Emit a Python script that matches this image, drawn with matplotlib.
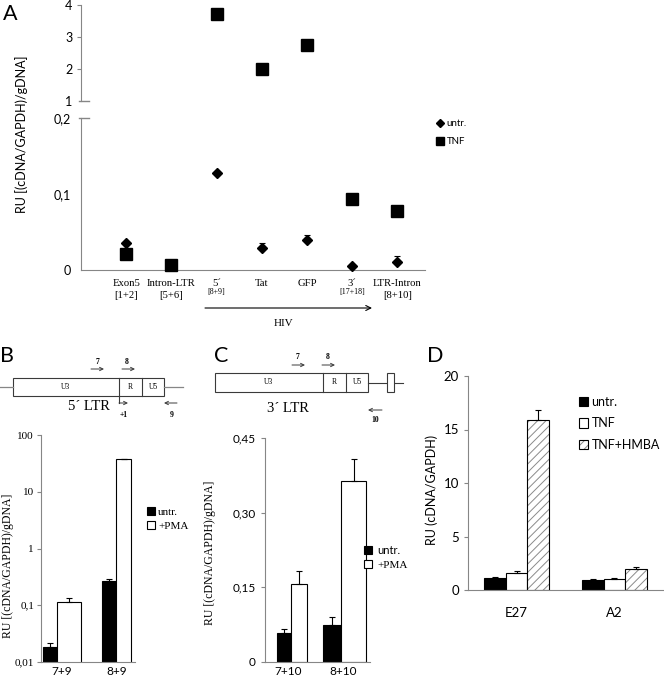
import numpy as np
import matplotlib
matplotlib.use('Agg')
import matplotlib.pyplot as plt
from matplotlib.patches import Rectangle
from matplotlib.ticker import NullLocator
from matplotlib.transforms import blended_transform_factory

W, H = 664, 681
SANS = ['Lato', 'DejaVu Sans']
SERIF = ['Liberation Serif', 'DejaVu Serif']
GREY = '#868686'
DARK = '#3a3a3a'

# ---- panel A: scatter, broken y axis
cats_A = ['Exon5', 'Intron-LTR', '5´', 'Tat', 'GFP', '3´', 'LTR-Intron']
primers_A = ['[1+2]', '[5+6]', '[8+9]', '', '', '[17+18]', '[8+10]']
untr_A = [0.036, 0.006, 0.128, 0.0285, 0.039, 0.0057, 0.0105]
untr_A_err = [0, 0, 0, 0.0075, 0.007, 0, 0.0075]
tnf_A = [0.021, 0.0066, 3.71, 2.0, 2.75, 0.094, 0.078]
tnf_A_err = [0, 0.003, 0, 0, 0.12, 0, 0]
yticks_A_top = [1, 2, 3, 4]
yticklabels_A_top = ['1', '2', '3', '4']
yticks_A_bot = [0, 0.1, 0.2]
yticklabels_A_bot = ['0', '0,1', '0,2']

# ---- panel B: 5' LTR, log scale
cats_B = ['7+9', '8+9']
untr_B = [0.0185, 0.265]
untr_B_err = [0.003, 0.025]
pma_B = [0.115, 37.7]
pma_B_err = [0.02, 0.8]
yticks_B = [0.01, 0.1, 1, 10, 100]
yticklabels_B = ['0,01', '0,1', '1', '10', '100']

# ---- panel C: 3' LTR
cats_C = ['7+10', '8+10']
untr_C = [0.059, 0.075]
untr_C_err = [0.008, 0.015]
pma_C = [0.157, 0.363]
pma_C_err = [0.026, 0.045]
yticks_C = [0, 0.15, 0.30, 0.45]
yticklabels_C = ['0', '0,15', '0,30', '0,45']

# ---- panel D
cats_D = ['E27', 'A2']
untr_D = [1.09, 0.93]
untr_D_err = [0.15, 0.1]
tnf_D = [1.56, 1.0]
tnf_D_err = [0.24, 0.09]
hmba_D = [15.86, 1.96]
hmba_D_err = [1.0, 0.22]
yticks_D = [0, 5, 10, 15, 20]


def box(x0, y0, x1, y1):
    # pixel box (top-left origin) -> figure fraction rect
    return [x0 / W, 1 - y1 / H, (x1 - x0) / W, (y1 - y0) / H]


def style(ax):
    for s in ('top', 'right'):
        ax.spines[s].set_visible(False)
    ax.spines['left'].set_color(GREY)
    ax.spines['bottom'].set_color(GREY)
    ax.tick_params(axis='y', color=GREY, length=3, direction='out')
    ax.tick_params(axis='x', length=0)


def up_err(ax, x, y, err):
    ax.errorbar(x, y, yerr=[np.zeros(len(err)), err], fmt='none', ecolor='k',
                elinewidth=0.8, capsize=2, capthick=0.8, zorder=3)


plt.rcParams['font.family'] = SANS
plt.rcParams['hatch.linewidth'] = 0.7

fig = plt.figure(figsize=(W / 100, H / 100), dpi=100)
ov = fig.add_axes([0, 0, 1, 1])
ov.set_xlim(0, W)
ov.set_ylim(H, 0)
ov.axis('off')

# ================= A =================
axT = fig.add_axes(box(81, 5, 425, 101))
axL = fig.add_axes(box(81, 118, 425, 270))
xA = np.arange(1, len(cats_A) + 1)
for ax in (axT, axL):
    style(ax)
    ax.set_xlim(0, 7.61)
    ax.set_xticks([])
axT.spines['bottom'].set_visible(False)
axT.set_ylim(1, 4)
axT.set_yticks(yticks_A_top, yticklabels_A_top, fontsize=9)
axT.yaxis.get_major_ticks()[0].tick1line.set_visible(False)
axT.tick_params(axis='y', pad=3)
axL.set_ylim(0, 0.2)
axL.set_yticks(yticks_A_bot, yticklabels_A_bot, fontsize=9)
axL.tick_params(axis='y', length=0, pad=7)
for ax, yb in ((axT, 1), (axL, 0.2)):
    ax.plot([-0.005, 0.022], [yb, yb], transform=ax.get_yaxis_transform(),
            color=GREY, lw=1, clip_on=False)

tnf = np.array(tnf_A)
tnf_err = np.array(tnf_A_err)
hi = tnf > 1
h_untr, = axL.plot(xA, untr_A, 'D', ms=5.5, color='k', clip_on=False, zorder=4)
up_err(axL, xA, untr_A, untr_A_err)
h_tnf, = axL.plot(xA[~hi], tnf[~hi], 's', ms=8.2, color='k', clip_on=False, zorder=5)
up_err(axL, xA[~hi], tnf[~hi], tnf_err[~hi])
axT.plot(xA[hi], tnf[hi], 's', ms=8.2, color='k', clip_on=False, zorder=5)
up_err(axT, xA[hi], tnf[hi], tnf_err[hi])

fig.legend([h_untr, h_tnf], ['untr.', 'TNF'], loc='upper left',
           bbox_to_anchor=(436 / W, 1 - 119 / H), frameon=False,
           prop={'family': SANS, 'size': 7}, handlelength=0.9, handletextpad=0.2,
           labelspacing=0.95, markerscale=0.7, borderpad=0, borderaxespad=0)

trA = blended_transform_factory(axL.transData, ov.transData)
for i, (c, p) in enumerate(zip(cats_A, primers_A)):
    ov.text(xA[i], 284, c, transform=trA, ha='center', va='center',
            family=SERIF, fontsize=7.7)
    if p:
        small = c.endswith('´')
        ov.text(xA[i], 292 if small else 295, p, transform=trA, ha='center',
                va='center', family=SERIF, fontsize=5.8 if small else 7.7)
ov.annotate('', xy=(372, 308), xytext=(205, 308),
            arrowprops=dict(arrowstyle='->', lw=0.8, color='k',
                            shrinkA=0, shrinkB=0, mutation_scale=9))
ov.text(284, 324, 'HIV', ha='center', va='center', family=SERIF, fontsize=8)
fig.text(22 / W, 1 - 134 / H, 'RU [(cDNA/GAPDH)/gDNA]', rotation=90,
         ha='center', va='center', fontsize=9)

# ================= B =================
axB = fig.add_axes(box(41, 435, 135, 662))
style(axB)
axB.set_yscale('log')
axB.set_ylim(0.01, 100)
axB.set_xlim(-0.382, 1.327)
axB.yaxis.set_minor_locator(NullLocator())
axB.set_yticks(yticks_B, yticklabels_B, family=SERIF, fontsize=8)
axB.tick_params(axis='y', pad=2)
xB = np.arange(len(cats_B))
axB.set_xticks(xB, cats_B, fontsize=8.5)
axB.tick_params(axis='x', pad=3)
lB_untr, wB_untr = np.array([-0.345, -0.273]), np.array([0.255, 0.255])
lB_pma, wB_pma = np.array([-0.091, -0.018]), np.array([0.436, 0.273])
bB1 = axB.bar(xB + lB_untr, untr_B, width=wB_untr, align='edge', color='k',
              edgecolor='k', lw=0.8)
bB2 = axB.bar(xB + lB_pma, pma_B, width=wB_pma, align='edge', color='white',
              edgecolor='k', lw=0.8)
up_err(axB, xB + lB_untr + wB_untr / 2, untr_B, untr_B_err)
up_err(axB, xB + lB_pma + wB_pma / 2, pma_B, pma_B_err)
fig.legend([bB1, bB2], ['untr.', '+PMA'], loc='upper left',
           bbox_to_anchor=(147 / W, 1 - 507 / H), frameon=False,
           prop={'family': SERIF, 'size': 8}, handlelength=0.75, handleheight=0.75,
           handletextpad=0.25, labelspacing=0.35, borderpad=0, borderaxespad=0)
fig.text(8 / W, 1 - 566 / H, 'RU [(cDNA/GAPDH)/gDNA]', rotation=90,
         ha='center', va='center', family=SERIF, fontsize=8.5)

# ================= C =================
axC = fig.add_axes(box(265, 438, 370, 662))
style(axC)
axC.set_ylim(0, 0.45)
axC.set_xlim(-0.418, 1.491)
axC.set_yticks(yticks_C, yticklabels_C, fontsize=8.5)
xC = np.arange(len(cats_C))
axC.set_xticks(xC, cats_C, fontsize=8.5)
axC.tick_params(axis='x', pad=3)
lC_untr, wC_untr = np.array([-0.2, -0.364]), np.array([0.255, 0.327])
lC_pma, wC_pma = np.array([0.055, -0.036]), np.array([0.29, 0.455])
bC1 = axC.bar(xC + lC_untr, untr_C, width=wC_untr, align='edge', color='k',
              edgecolor='k', lw=0.8)
bC2 = axC.bar(xC + lC_pma, pma_C, width=wC_pma, align='edge', color='white',
              edgecolor='k', lw=0.8)
up_err(axC, xC + lC_untr + wC_untr / 2, untr_C, untr_C_err)
up_err(axC, xC + lC_pma + wC_pma / 2, pma_C, pma_C_err)
legC = fig.legend([bC1, bC2], ['untr.', '+PMA'], loc='upper left',
                  bbox_to_anchor=(364 / W, 1 - 545 / H), frameon=False,
                  prop={'family': SERIF, 'size': 8}, handlelength=0.7,
                  handleheight=0.7, handletextpad=0.5, labelspacing=0.35,
                  borderpad=0, borderaxespad=0)
legC.get_texts()[0].set_fontfamily(SANS)
fig.text(210 / W, 1 - 553 / H, 'RU [(cDNA/GAPDH)/gDNA]', rotation=90,
         ha='center', va='center', family=SERIF, fontsize=8.5)

# ================= D =================
axD = fig.add_axes(box(468, 376, 663, 590))
style(axD)
axD.set_ylim(0, 20)
axD.set_xlim(-0.495, 1.495)
axD.set_yticks(yticks_D, [str(t) for t in yticks_D], fontsize=9.5)
xD = np.arange(len(cats_D))
axD.set_xticks(xD, cats_D, fontsize=9.5)
axD.tick_params(axis='x', pad=12)
wD = 0.22
bD1 = axD.bar(xD - wD, untr_D, width=wD, color='k', edgecolor='k', lw=0.8)
bD2 = axD.bar(xD, tnf_D, width=wD, color='white', edgecolor='k', lw=0.8)
bD3 = axD.bar(xD + wD, hmba_D, width=wD, color='white', edgecolor='#8a8a8a',
              hatch='////', lw=0)
bD3o = axD.bar(xD + wD, hmba_D, width=wD, fill=False, edgecolor='k', lw=0.8)
up_err(axD, xD - wD, untr_D, untr_D_err)
up_err(axD, xD, tnf_D, tnf_D_err)
up_err(axD, xD + wD, hmba_D, hmba_D_err)
fig.legend([bD1, bD2, (bD3, bD3o)], ['untr.', 'TNF', 'TNF+HMBA'], loc='upper left',
           bbox_to_anchor=(579 / W, 1 - 396 / H), frameon=False,
           prop={'family': SANS, 'size': 9}, handlelength=0.75, handleheight=0.75,
           handletextpad=0.25, labelspacing=0.75, borderpad=0, borderaxespad=0)
fig.text(432 / W, 1 - 490 / H, 'RU (cDNA/GAPDH)', rotation=90,
         ha='center', va='center', fontsize=9)

# ================= LTR schemes =================
def arrow(x0, x1, y):
    ov.annotate('', xy=(x1, y), xytext=(x0, y),
                arrowprops=dict(arrowstyle='->', lw=0.7, color=DARK,
                                shrinkA=0, shrinkB=0, mutation_scale=6))


def num(x, y, s):
    ov.text(x, y, s, ha='center', va='center', family=SERIF, fontsize=5.5,
            fontweight='bold')


def ltr_box(x0, x1, y0, y1, xr, xu5):
    ov.add_patch(Rectangle((x0, y0), x1 - x0, y1 - y0, fill=False,
                           edgecolor=DARK, lw=0.8))
    ov.plot([xr, xr], [y0, y1], color=DARK, lw=0.8)
    ov.plot([xu5, xu5], [y0, y1], color=DARK, lw=0.8)
    ym = (y0 + y1) / 2
    for xt, s in (((x0 + xr) / 2, 'U3'), ((xr + xu5) / 2, 'R'), ((xu5 + x1) / 2, 'U5')):
        ov.text(xt, ym, s, ha='center', va='center', family=SERIF, fontsize=5.5)


# 5' LTR
ltr_box(13, 164, 378, 396, 119, 142)
ov.plot([0, 13], [387, 387], color=GREY, lw=0.9)
ov.plot([164, 183], [387, 387], color=GREY, lw=0.9)
num(97, 362, '7')
arrow(91, 104, 369)
num(127, 362, '8')
arrow(122, 135, 369)
ov.plot([119, 119], [396, 403], color=DARK, lw=0.8)
arrow(119, 128, 403)
num(124, 415, '+1')
arrow(177, 164, 403)
num(172, 415, '9')
ov.text(89, 406, '5´ LTR', ha='center', va='center', family=SERIF, fontsize=10.5)

# 3' LTR
ltr_box(215, 368, 373, 392, 323, 346)
ov.plot([368, 403], [383, 383], color=DARK, lw=0.8)
ov.add_patch(Rectangle((387, 373), 7, 19, facecolor='white', edgecolor=DARK,
                       lw=0.8, zorder=3))
num(297, 357, '7')
arrow(292, 305, 365)
num(328, 357, '8')
arrow(322, 335, 365)
arrow(382, 368, 410)
num(375, 420, '10')
ov.text(288, 409, '3´ LTR', ha='center', va='center', family=SERIF, fontsize=10.5)

# panel letters
for x, y, s in ((3, 20, 'A'), (0, 362, 'B'), (214, 362, 'C'), (427, 362, 'D')):
    ov.text(x, y, s, ha='left', va='baseline', fontsize=15.5)

fig.savefig('out.png', dpi=100)
